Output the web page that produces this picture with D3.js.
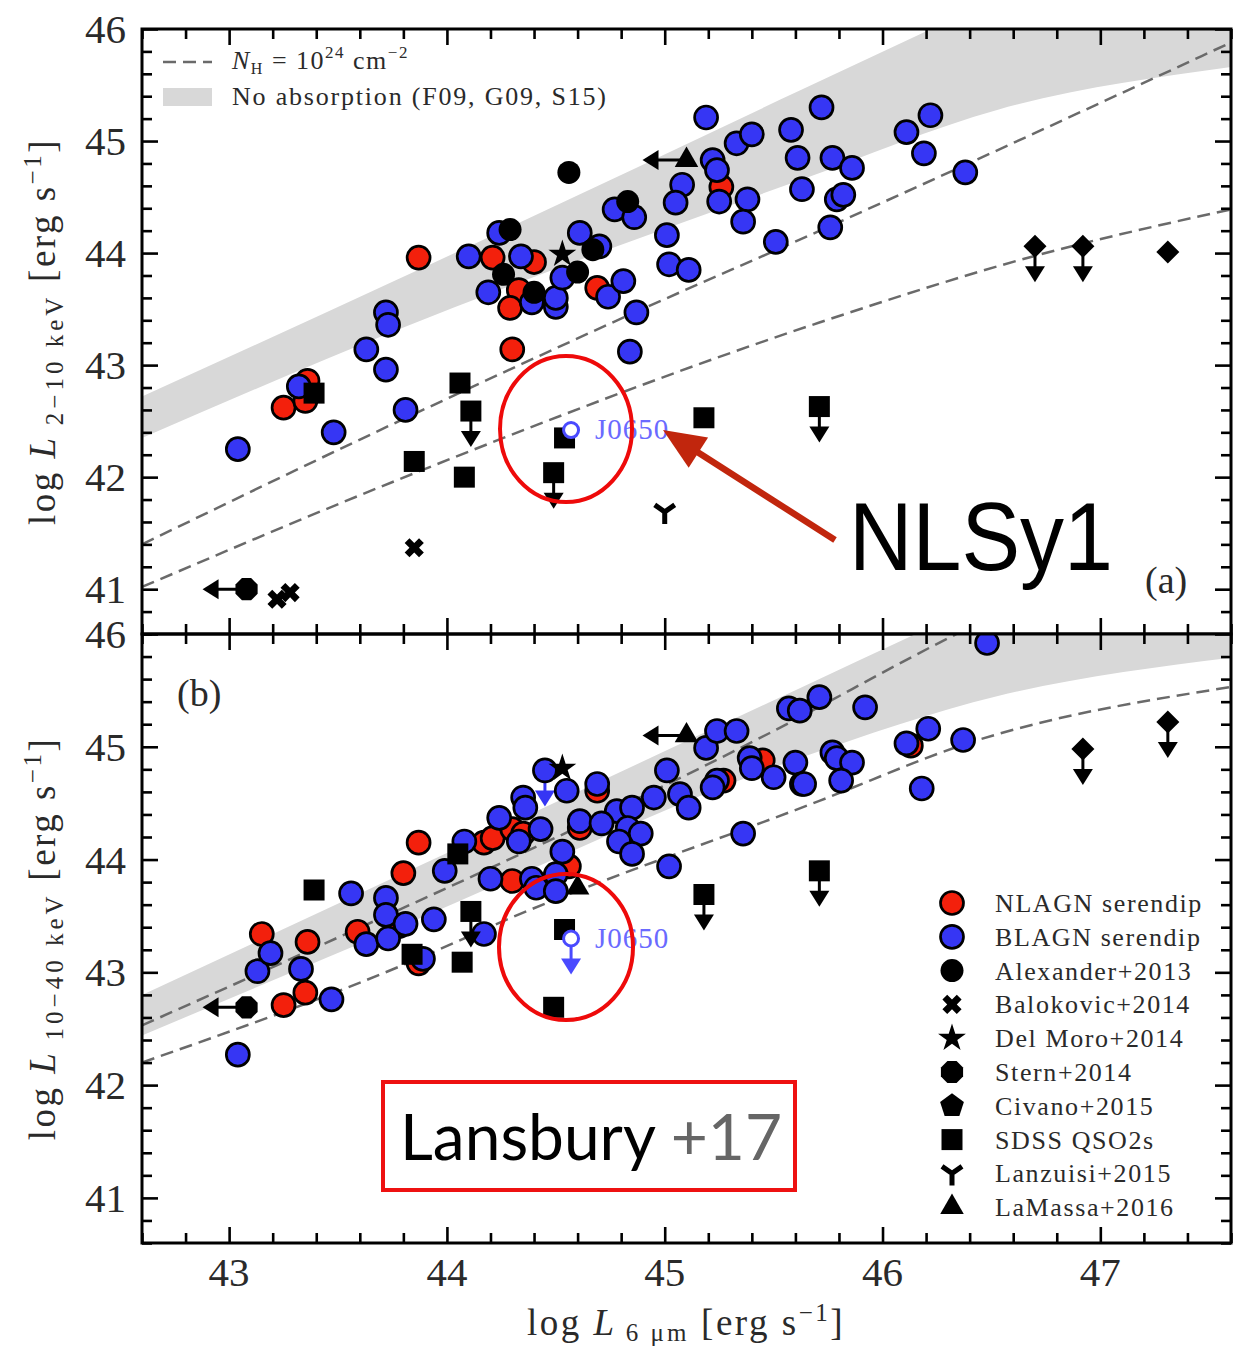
<!DOCTYPE html>
<html>
<head>
<meta charset="utf-8">
<script src="https://cdn.jsdelivr.net/npm/d3@7"></script>
<style>body{margin:0;background:#fff}</style>
</head>
<body>
<script>
// ---- data (log L6um, log LX) ----
var xTicks = [43, 44, 45, 46, 47];
var yTicks = [41, 42, 43, 44, 45, 46];

// panel (a): 2-10 keV
var nlagnA = [[43.25,42.62],[43.36,42.86],[43.35,42.68],[43.87,43.96],[44.21,43.96],[44.40,43.92],[44.33,43.67],[44.29,43.51],[44.69,43.69],[44.30,43.14],[45.26,44.59]];
var blagnA = [[43.04,42.25],[43.32,42.81],[43.48,42.40],[43.63,43.14],[43.72,42.96],[43.72,43.47],[43.73,43.36],[43.81,42.60],[44.10,43.97],[44.24,44.18],[44.34,43.97],[44.19,43.65],[44.39,43.56],[44.50,43.52],[44.50,43.60],[44.53,43.78],[44.61,44.18],[44.70,44.06],[44.74,43.61],[44.81,43.75],[44.87,43.47],[44.84,43.12],[44.77,44.39],[44.86,44.32],[45.01,44.16],[45.02,43.90],[45.11,43.85],[45.08,44.61],[45.05,44.45],[45.19,45.21],[45.22,44.83],[45.24,44.74],[45.25,44.46],[45.33,44.98],[45.40,45.06],[45.38,44.48],[45.36,44.28],[45.51,44.10],[45.58,45.10],[45.61,44.85],[45.63,44.57],[45.72,45.30],[45.77,44.85],[45.86,44.76],[45.79,44.48],[45.82,44.52],[45.76,44.23],[46.11,45.08],[46.22,45.23],[46.19,44.89],[46.38,44.72]];
var alexA = [[44.29,44.21],[44.26,43.81],[44.40,43.65],[44.60,43.83],[44.67,44.03],[44.83,44.46],[44.56,44.72]];
var balokA = [[43.85,41.37],[43.22,40.91],[43.28,40.97]];
var delmoroA = [[44.53,43.99]];
var sternA = [[43.08,41.00,"left"]];
var sdssA = [[43.39,42.75],[43.85,42.14],[44.06,42.84],[44.11,42.59,"down"],[44.08,42.00],[44.54,42.35],[44.49,42.04,"down"],[45.18,42.53],[45.71,42.63,"down"]];
var lanzA = [[45.00,41.69]];
var lamassaA = [[45.10,44.83,"left"]];
var diamondA = [[46.70,44.06,"down"],[46.92,44.06,"down"],[47.31,44.01]];
var j0650A = [44.57,42.42];
// band: x, lower, upper ; dashed NH=1e24 curves
var bandA = [[42.6,42.35,42.72],[43.78,43.32,43.77],[45.62,44.65,45.45],[46.53,45.28,46.28],[47.6,45.66,47.26]];
var dashA1 = [[42.6,41.40],[43.78,42.50],[44.92,43.52],[45.62,44.12],[47.6,45.88]];
var dashA2 = [[42.6,41.02],[43.78,41.98],[45.71,43.38],[46.69,43.97],[47.6,44.39]];

// panel (b): 10-40 keV
var nlagnB = [[43.15,43.34],[43.36,43.27],[43.25,42.71],[43.35,42.82],[43.59,43.36],[43.78,43.41],[43.80,43.88],[43.87,44.15],[44.17,44.15],[44.21,44.19],[44.30,44.27],[44.35,44.23],[44.69,44.61],[44.61,44.28],[44.56,43.94],[44.30,43.81],[45.27,44.70],[45.45,44.88],[46.13,45.01],[43.87,43.08]];
var blagnB = [[43.04,42.27],[43.13,43.01],[43.19,43.17],[43.33,43.03],[43.47,42.76],[43.56,43.70],[43.63,43.25],[43.72,43.66],[43.72,43.51],[43.73,43.30],[43.81,43.43],[43.94,43.47],[43.99,43.90],[44.08,44.16],[44.24,44.37],[44.33,44.16],[44.35,44.55],[44.36,44.46],[44.43,44.27],[44.45,44.79,"down"],[44.55,44.61],[44.69,44.67],[44.61,44.34],[44.53,44.07],[44.50,43.87],[44.20,43.83],[44.39,43.83],[44.41,43.75],[44.50,43.72],[44.78,44.43],[44.85,44.46],[44.83,44.28],[44.89,44.23],[44.79,44.16],[44.85,44.05],[44.71,44.32],[44.95,44.55],[45.01,44.79],[45.07,44.58],[45.11,44.46],[45.19,44.99],[45.24,45.14],[45.33,45.14],[45.24,44.70],[45.22,44.64],[45.39,44.90],[45.40,44.81],[45.50,44.73],[45.60,44.86],[45.63,44.67],[45.57,45.34],[45.71,45.44],[45.36,44.23],[45.02,43.94],[44.17,43.34],[43.89,43.12],[45.92,45.35],[45.62,45.32],[46.21,45.16],[46.11,45.03],[46.37,45.06],[45.77,44.95],[45.79,44.90],[45.86,44.86],[45.81,44.70],[45.64,44.67],[46.18,44.63],[46.48,45.92]];
var sdssB = [[43.39,43.73],[44.05,44.05],[43.84,43.16],[44.07,43.09],[44.11,43.54,"down"],[44.54,43.38],[44.49,42.69],[45.18,43.69,"down"],[45.71,43.90,"down"]];
var delmoroB = [[44.53,44.81]];
var lamassaB = [[44.60,43.75],[45.10,45.10,"left"]];
var sternB = [[43.08,42.69,"left"]];
var diamondB = [[46.92,44.98,"down"],[47.31,45.22,"down"]];
var j0650B = [44.57,43.30,"down"];
var bandB = [[42.6,42.44,42.80],[43.78,43.40,43.86],[45.62,44.90,45.52],[46.53,45.45,46.34],[47.6,45.79,47.30]];
var dashB1 = [[42.6,42.53],[43.33,43.16],[45.48,45.12],[46.34,46.00],[47.0,46.60]];
var dashB2 = [[42.6,42.20],[43.83,43.09],[44.29,43.48],[45.71,44.52],[46.39,45.03],[47.6,45.53]];

var legendLabels = ["NLAGN serendip","BLAGN serendip","Alexander+2013","Balokovic+2014","Del Moro+2014","Stern+2014","Civano+2015","SDSS QSO2s","Lanzuisi+2015","LaMassa+2016"];
var legendKeys = ["nlagn","blagn","dot","cross","star","octagon","pentagon","square","ytri","triangle"];

(function(){
  var width = 1243, height = 1350;
  var serif = "'Liberation Serif','Times New Roman',serif";
  var RED = "#f3200c", BLUE = "#3636f4", JBLUE = "#4a4aff";
  var DASH = "13,7";
  var svg = d3.select("body").append("svg")
    .attr("width", width).attr("height", height)
    .style("font-family", serif);

  var x = d3.scaleLinear().domain([42.6, 47.6]).range([142, 1231]);
  var yA = d3.scaleLinear().domain([40.6, 46]).range([634, 29]);
  var yB = d3.scaleLinear().domain([40.6, 46]).range([1243, 634]);

  function poly(n, r, start){
    var pts = d3.range(n).map(function(i){
      var a = (start + i*360/n) * Math.PI/180;
      return [r*Math.cos(a), r*Math.sin(a)];
    });
    return "M" + pts.join("L") + "Z";
  }
  // marker shapes
  var SYM = {
    nlagn: {d: d3.symbol(d3.symbolCircle, Math.PI*11.5*11.5)(), fill: RED, stroke: "#000"},
    blagn: {d: d3.symbol(d3.symbolCircle, Math.PI*11.5*11.5)(), fill: BLUE, stroke: "#000"},
    dot: {d: d3.symbol(d3.symbolCircle, Math.PI*11.5*11.5)(), fill: "#000"},
    cross: {d: d3.symbol(d3.symbolCross, 230)(), fill: "#000", rot: 45},
    star: {d: d3.symbol(d3.symbolStar, 240)(), fill: "#000"},
    octagon: {d: poly(8, 12, 22.5), fill: "#000"},
    pentagon: {d: poly(5, 12.5, -90), fill: "#000"},
    square: {d: d3.symbol(d3.symbolSquare, 441)(), fill: "#000"},
    ytri: {d: "M0,0V12M0,0L-10,-7M0,0L10,-7", fill: "none", stroke: "#000", sw: 5},
    triangle: {d: d3.symbol(d3.symbolTriangle, 240)(), fill: "#000"},
    diamond: {d: d3.symbol(d3.symbolSquare, 265)(), fill: "#000", rot: 45}
  };

  function marker(g, key, px, py){
    var s = SYM[key];
    g.append("path")
      .attr("d", s.d)
      .attr("transform", "translate(" + px + "," + py + ")" + (s.rot ? " rotate(" + s.rot + ")" : ""))
      .attr("fill", s.fill)
      .attr("stroke", s.stroke || "none")
      .attr("stroke-width", s.sw || 2.7)
      .attr("stroke-linecap", "butt");
  }
  // limit arrow (down = upper limit on y, left = upper limit on x)
  function limit(g, dir, px, py, color){
    color = color || "#000";
    if (dir == "down"){
      var L = 36;
      g.append("line").attr("x1", px).attr("y1", py).attr("x2", px).attr("y2", py + L - 12)
        .attr("stroke", color).attr("stroke-width", 3);
      g.append("path").attr("d", "M" + (px-10) + "," + (py+L-16) + "L" + (px+10) + "," + (py+L-16) + "L" + px + "," + (py+L) + "Z")
        .attr("fill", color);
    } else {
      var L2 = 44;
      g.append("line").attr("x1", px).attr("y1", py).attr("x2", px - L2 + 12).attr("y2", py)
        .attr("stroke", color).attr("stroke-width", 3);
      g.append("path").attr("d", "M" + (px-L2) + "," + py + "L" + (px-L2+16) + "," + (py-10) + "L" + (px-L2+16) + "," + (py+10) + "Z")
        .attr("fill", color);
    }
  }
  function series(g, y, data, key, color){
    data.forEach(function(d){
      if (d[2]) limit(g, d[2], x(d[0]), y(d[1]), color);
    });
    data.forEach(function(d){ marker(g, key, x(d[0]), y(d[1])); });
  }

  function drawPanel(id, y, p){
    var left = x.range()[0], right = x.range()[1];
    var top = y.range()[1], bot = y.range()[0];
    svg.append("clipPath").attr("id", "clip" + id)
      .append("rect").attr("x", left).attr("y", top).attr("width", right - left).attr("height", bot - top);
    var inner = svg.append("g").attr("clip-path", "url(#clip" + id + ")");

    inner.append("path").datum(p.band)
      .attr("d", d3.area().x(function(d){return x(d[0]);}).y0(function(d){return y(d[1]);}).y1(function(d){return y(d[2]);}).curve(d3.curveMonotoneX))
      .attr("fill", "#d8d8d8");
    p.dashes.forEach(function(line){
      inner.append("path").datum(line)
        .attr("d", d3.line().x(function(d){return x(d[0]);}).y(function(d){return y(d[1]);}).curve(d3.curveMonotoneX))
        .attr("fill", "none").attr("stroke", "#6a6a6a").attr("stroke-width", 2.5)
        .attr("stroke-dasharray", DASH);
    });

    series(inner, y, p.nlagn, "nlagn");
    series(inner, y, p.blagn, "blagn", BLUE);
    series(inner, y, p.alex || [], "dot");
    series(inner, y, p.balok || [], "cross");
    series(inner, y, p.delmoro || [], "star");
    series(inner, y, p.stern || [], "octagon");
    series(inner, y, p.sdss || [], "square");
    series(inner, y, p.lanz || [], "ytri");
    series(inner, y, p.lamassa || [], "triangle");
    series(inner, y, p.diamond || [], "diamond");

    // J0650
    var j = p.j0650;
    if (j[2]) limit(inner, j[2], x(j[0]), y(j[1]), JBLUE);
    inner.append("circle").attr("cx", x(j[0])).attr("cy", y(j[1])).attr("r", 7.5)
      .attr("fill", "#fff").attr("stroke", JBLUE).attr("stroke-width", 3);
    svg.append("text").attr("x", x(j[0]) + 24).attr("y", y(j[1]) + 9)
      .attr("font-size", 29).attr("letter-spacing", 1).attr("fill", "#6a6aff").text("J0650");

    // ticks on all four sides, pointing in
    var xMinor = d3.range(42.6, 47.61, 0.2).map(function(v){return +v.toFixed(1);}).filter(function(v){return xTicks.indexOf(v) < 0;});
    var yMinor = d3.range(40.6, 46.01, 0.2).map(function(v){return +v.toFixed(1);}).filter(function(v){return yTicks.indexOf(v) < 0;});
    function ax(a, vals, len, tr){
      var gg = svg.append("g").attr("transform", tr)
        .call(a.tickValues(vals).tickFormat("").tickSizeInner(-len).tickSizeOuter(0));
      gg.select(".domain").remove();
      gg.selectAll("line").attr("stroke", "#000").attr("stroke-width", 2.6);
    }
    [[xTicks, 16], [xMinor, 10]].forEach(function(t){
      ax(d3.axisBottom(x), t[0], t[1], "translate(0," + bot + ")");
      ax(d3.axisTop(x), t[0], t[1], "translate(0," + top + ")");
    });
    [[yTicks, 16], [yMinor, 10]].forEach(function(t){
      ax(d3.axisLeft(y), t[0], t[1], "translate(" + left + ",0)");
      ax(d3.axisRight(y), t[0], t[1], "translate(" + right + ",0)");
    });
    svg.append("rect").attr("x", left).attr("y", top).attr("width", right - left).attr("height", bot - top)
      .attr("fill", "none").attr("stroke", "#000").attr("stroke-width", 3);

    svg.selectAll(".ylab" + id).data(yTicks).enter().append("text")
      .attr("x", left - 16).attr("y", function(d){return y(d) + 14;})
      .attr("text-anchor", "end").attr("font-size", 41).attr("fill", "#2a2a2a")
      .text(function(d){return d;});

    // y title
    var t = svg.append("text")
      .attr("transform", "translate(55," + ((top + bot)/2) + ") rotate(-90)")
      .attr("text-anchor", "middle").attr("font-size", 37).attr("fill", "#2a2a2a")
      .attr("letter-spacing", 2.5);
    t.append("tspan").text("log ");
    t.append("tspan").attr("font-style", "italic").text("L");
    t.append("tspan").attr("font-size", 25).attr("dy", 8).attr("letter-spacing", 4).text(" " + p.band_label);
    t.append("tspan").attr("dy", -8).text(" [erg s");
    t.append("tspan").attr("font-size", 25).attr("dy", -14).text("−1");
    t.append("tspan").attr("dy", 14).text("]");
  }

  drawPanel("a", yA, {band: bandA, dashes: [dashA1, dashA2], nlagn: nlagnA, blagn: blagnA, alex: alexA, balok: balokA,
    delmoro: delmoroA, stern: sternA, sdss: sdssA, lanz: lanzA, lamassa: lamassaA, diamond: diamondA, j0650: j0650A, band_label: "2−10 keV"});
  drawPanel("b", yB, {band: bandB, dashes: [dashB1, dashB2], nlagn: nlagnB, blagn: blagnB, sdss: sdssB, delmoro: delmoroB,
    lamassa: lamassaB, stern: sternB, diamond: diamondB, j0650: j0650B, band_label: "10−40 keV"});

  // x tick labels and title
  svg.selectAll(".xlab").data(xTicks).enter().append("text")
    .attr("x", function(d){return x(d);}).attr("y", 1286)
    .attr("text-anchor", "middle").attr("font-size", 41).attr("fill", "#2a2a2a")
    .text(function(d){return d;});
  var xt = svg.append("text").attr("x", 686).attr("y", 1335).attr("text-anchor", "middle")
    .attr("font-size", 37).attr("fill", "#2a2a2a").attr("letter-spacing", 2.5);
  xt.append("tspan").text("log ");
  xt.append("tspan").attr("font-style", "italic").text("L");
  xt.append("tspan").attr("font-size", 25).attr("dy", 6).attr("letter-spacing", 3).text(" 6 μm");
  xt.append("tspan").attr("dy", -6).text(" [erg s");
  xt.append("tspan").attr("font-size", 25).attr("dy", -14).text("−1");
  xt.append("tspan").attr("dy", 14).text("]");

  // panel labels
  svg.append("text").attr("x", 1145).attr("y", 593).attr("font-size", 38).attr("fill", "#2a2a2a").text("(a)");
  svg.append("text").attr("x", 177).attr("y", 706).attr("font-size", 38).attr("fill", "#2a2a2a").text("(b)");

  // legend (a)
  svg.append("line").attr("x1", 163).attr("x2", 212).attr("y1", 62).attr("y2", 62)
    .attr("stroke", "#6a6a6a").attr("stroke-width", 2.5).attr("stroke-dasharray", DASH);
  svg.append("rect").attr("x", 163).attr("y", 88).attr("width", 49).attr("height", 18).attr("fill", "#d8d8d8");
  var l1 = svg.append("text").attr("x", 232).attr("y", 69).attr("font-size", 26).attr("fill", "#2a2a2a").attr("letter-spacing", 1.5);
  l1.append("tspan").attr("font-style", "italic").text("N");
  l1.append("tspan").attr("font-size", 16).attr("dy", 5).text("H");
  l1.append("tspan").attr("dy", -5).text(" = 10");
  l1.append("tspan").attr("font-size", 17).attr("dy", -11).text("24");
  l1.append("tspan").attr("dy", 11).text(" cm");
  l1.append("tspan").attr("font-size", 17).attr("dy", -11).text("−2");
  svg.append("text").attr("x", 232).attr("y", 105).attr("font-size", 26).attr("fill", "#2a2a2a")
    .attr("letter-spacing", 1.8).text("No absorption (F09, G09, S15)");

  // legend (b)
  var lg = svg.append("g");
  legendKeys.forEach(function(k, i){
    var cy = 903 + i*33.8;
    marker(lg, k, 952, cy);
    lg.append("text").attr("x", 995).attr("y", cy + 9).attr("font-size", 26).attr("fill", "#2a2a2a")
      .attr("letter-spacing", 1.6).text(legendLabels[i]);
  });

  // annotations
  var ann = svg.append("g");
  ann.append("ellipse").attr("cx", 566).attr("cy", 429).attr("rx", 66).attr("ry", 73)
    .attr("fill", "none").attr("stroke", "#ee0a0a").attr("stroke-width", 4);
  ann.append("ellipse").attr("cx", 566).attr("cy", 947).attr("rx", 67).attr("ry", 73)
    .attr("fill", "none").attr("stroke", "#ee0a0a").attr("stroke-width", 4);
  var tip = [663, 430], tail = [835, 540];
  var dx = tip[0]-tail[0], dy = tip[1]-tail[1], len = Math.sqrt(dx*dx+dy*dy);
  var ux = dx/len, uy = dy/len, hl = 42, hw = 18;
  var bx = tip[0]-ux*hl, by = tip[1]-uy*hl;
  ann.append("line").attr("x1", tail[0]).attr("y1", tail[1]).attr("x2", bx + ux*4).attr("y2", by + uy*4)
    .attr("stroke", "#c1260d").attr("stroke-width", 6.5);
  ann.append("path").attr("d", "M" + tip + "L" + [bx - uy*hw, by + ux*hw] + "L" + [bx + uy*hw, by - ux*hw] + "Z")
    .attr("fill", "#c1260d");
  ann.append("text").attr("x", 849).attr("y", 570).attr("font-family", "'Liberation Sans',Arial,sans-serif")
    .attr("font-size", 96).attr("textLength", 264).attr("lengthAdjust", "spacingAndGlyphs").attr("fill", "#000").text("NLSy1");

  ann.append("rect").attr("x", 383).attr("y", 1082).attr("width", 412).attr("height", 108)
    .attr("fill", "#fff").attr("stroke", "#ee1111").attr("stroke-width", 4);
  var lt = ann.append("text").attr("x", 400).attr("y", 1160).attr("font-family", "Lato,'Open Sans',sans-serif").attr("font-size", 64);
  lt.append("tspan").attr("fill", "#000").text("Lansbury");
  lt.append("tspan").attr("fill", "#666").text(" +17");
})();
</script>
</body>
</html>
